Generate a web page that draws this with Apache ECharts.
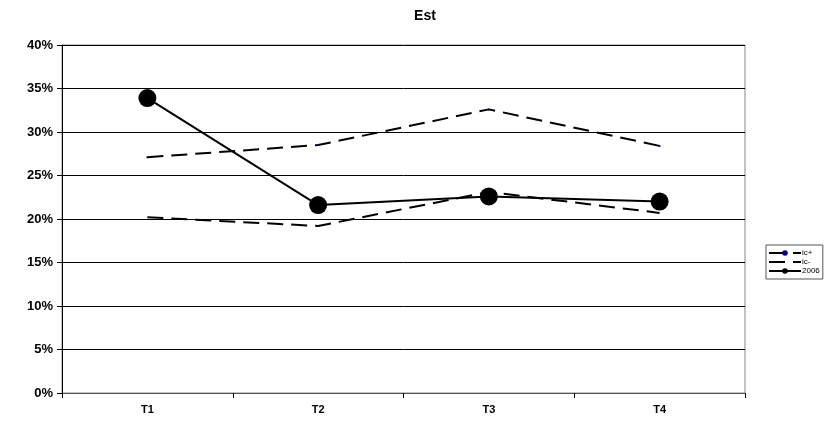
<!DOCTYPE html>
<html><head><meta charset="utf-8">
<script src="https://cdn.jsdelivr.net/npm/echarts@6/dist/echarts.min.js"></script>
<style>html,body{margin:0;padding:0;background:#fff}#c{width:840px;height:422px}</style>
</head><body><div id="c"></div>
<script>
var categories = ['T1', 'T2', 'T3', 'T4'];
var icPlus = [27.1, 28.5, 32.6, 28.4];
var icMinus = [20.2, 19.2, 23.1, 20.7];
var s2006 = [33.9, 21.6, 22.6, 22.0];
var yTicks = [0, 5, 10, 15, 20, 25, 30, 35, 40];

var font = 'Liberation Sans, Arial, sans-serif';
var chart = echarts.init(document.getElementById('c'));
chart.setOption({
  animation: false,
  backgroundColor: '#fff',
  title: { text: 'Est', left: 420, top: 4, textAlign: 'center',
    textStyle: { fontFamily: font, fontSize: 14, fontWeight: 'bold', color: '#000' } },
  grid: { left: 62, right: 95, top: 45, bottom: 29, containLabel: false,
    show: true, borderColor: '#888', borderWidth: 1 },
  legend: {
    orient: 'vertical', left: 766, top: 245,
    itemWidth: 32, itemHeight: 7, itemGap: 1,
    borderColor: '#555', borderWidth: 1, padding: [4, 3, 4, 2],
    textStyle: { fontFamily: font, fontSize: 8, color: '#000', padding: [0, 0, 0, -4] },
    data: [
      { name: 'ic+', itemStyle: { color: '#000080' } },
      { name: 'ic-', itemStyle: { opacity: 0 } },
      { name: '2006' }
    ]
  },
  xAxis: {
    type: 'category', data: categories, boundaryGap: true,
    axisLine: { lineStyle: { color: '#555', width: 1 } },
    axisTick: { show: true, length: 5, lineStyle: { color: '#000' } },
    axisLabel: { fontFamily: font, fontSize: 11, fontWeight: 'bold', color: '#000', margin: 11 }
  },
  yAxis: {
    type: 'value', min: 0, max: 40, interval: 5,
    axisLine: { show: true, lineStyle: { color: '#000', width: 1 } },
    axisTick: { show: true, length: 5, lineStyle: { color: '#000' } },
    splitLine: { lineStyle: { color: '#000', width: 1 } },
    axisLabel: { fontFamily: font, fontSize: 13, fontWeight: 'bold', color: '#000', margin: 9,
      formatter: function (v) { return v + '%'; } }
  },
  series: [
    { name: 'ic+', type: 'line', data: icPlus, symbol: 'circle', symbolSize: 2,
      itemStyle: { color: '#000080' },
      lineStyle: { color: '#000', width: 2, type: [16, 8] } },
    { name: 'ic-', type: 'line', data: icMinus, symbol: 'none',
      itemStyle: { color: '#000' },
      lineStyle: { color: '#000', width: 2, type: [16, 8] } },
    { name: '2006', type: 'line', data: s2006, symbol: 'circle', symbolSize: 18,
      itemStyle: { color: '#000' },
      lineStyle: { color: '#000', width: 2 } }
  ]
});
</script></body></html>
